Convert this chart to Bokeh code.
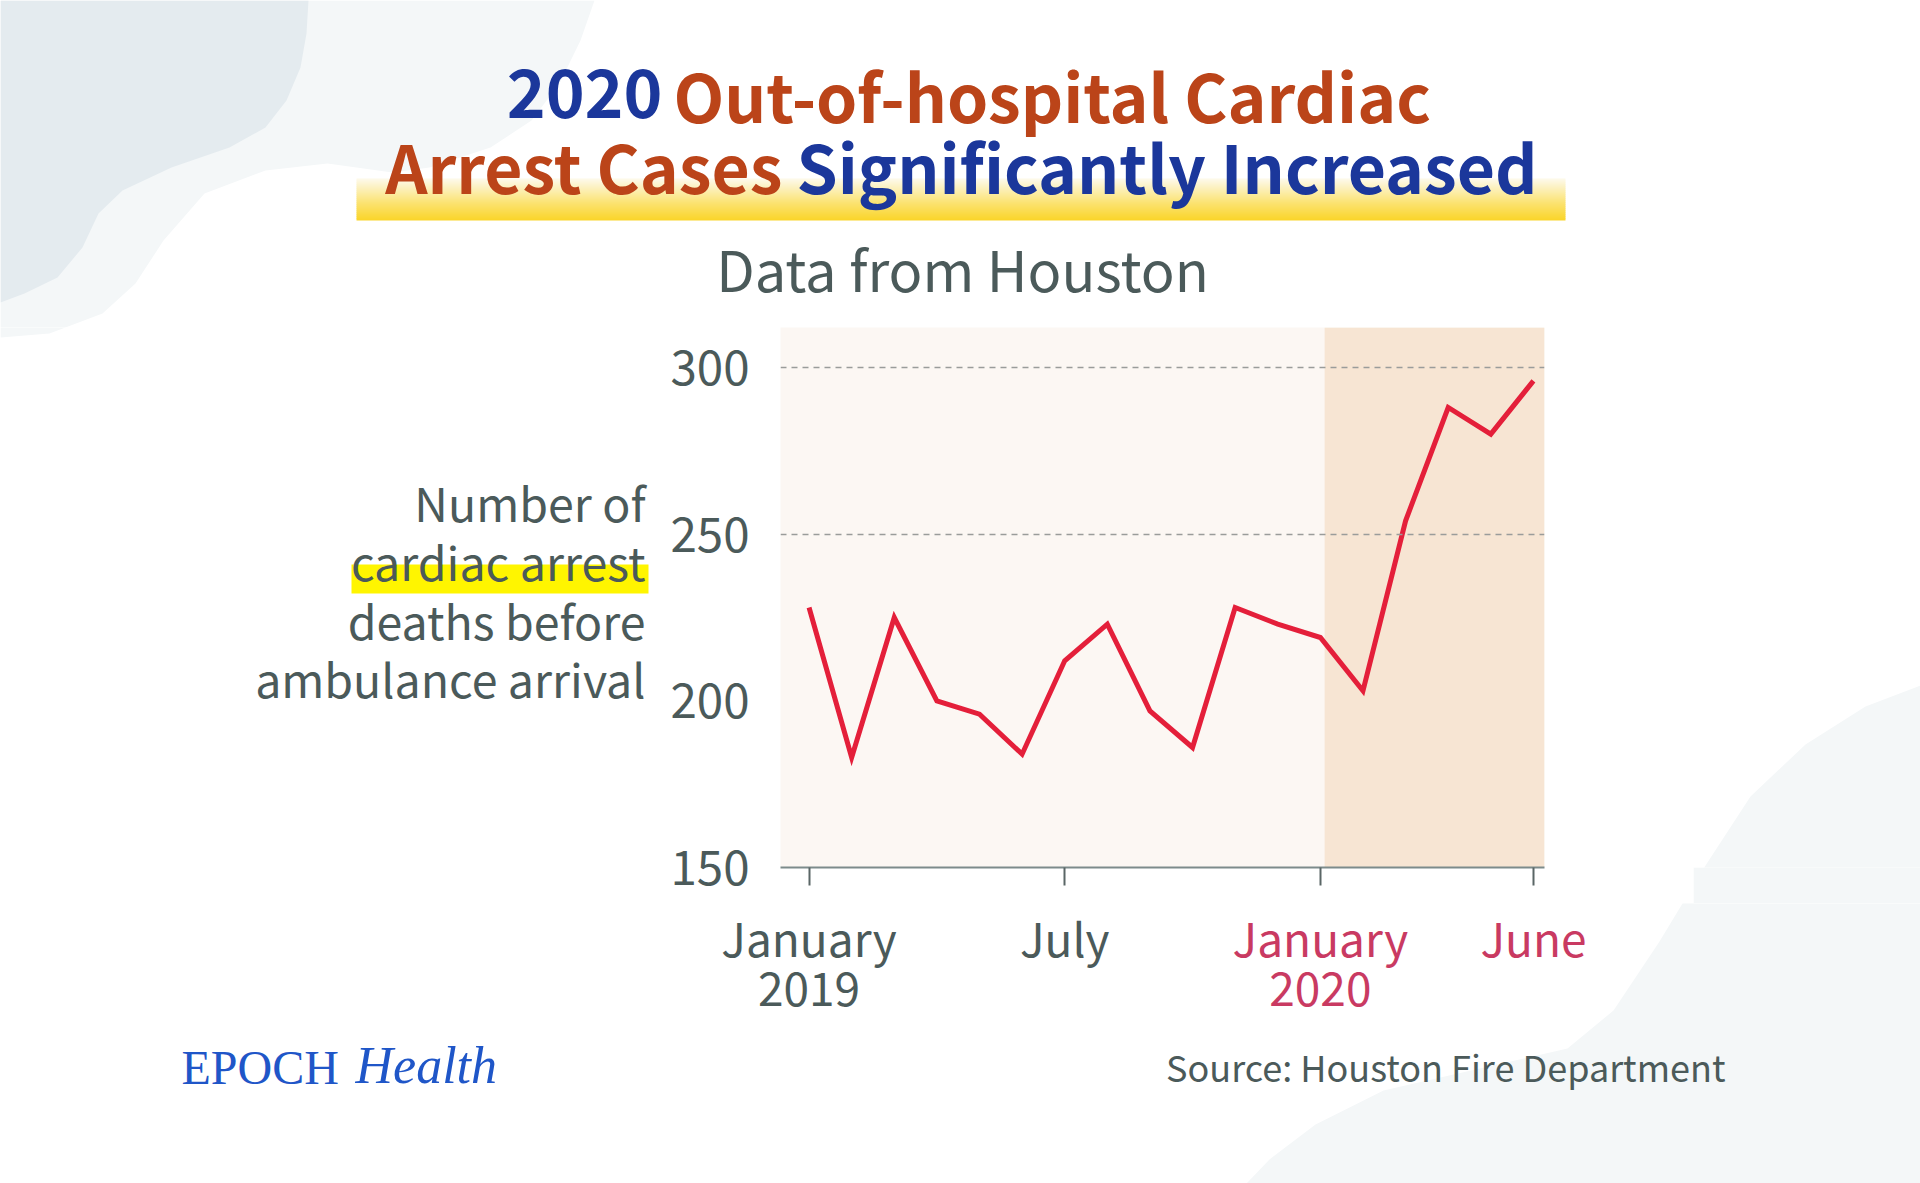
from bokeh.plotting import figure
from bokeh.layouts import column, row
from bokeh.models import Range1d, FixedTicker, BoxAnnotation
from bokeh.core.properties import value
from bokeh.embed import file_html
from bokeh.resources import INLINE

# ---------------- data ----------------
months = ["2019-01", "2019-02", "2019-03", "2019-04", "2019-05", "2019-06",
          "2019-07", "2019-08", "2019-09", "2019-10", "2019-11", "2019-12",
          "2020-01", "2020-02", "2020-03", "2020-04", "2020-05", "2020-06"]
month_index = list(range(len(months)))
deaths = [228, 183, 225, 200, 196, 184, 212, 223, 197, 186, 228, 223,
          219, 203, 254, 288, 280, 296]
x_tick_positions = [0, 6, 12, 17]
x_tick_months = ["January", "July", "January", "June"]
x_tick_years = ["2019", "", "2020", ""]
x_tick_is_2020 = [False, False, True, True]
y_ticks = [150, 200, 250, 300]
grid_values = [250, 300]
shade_start = 12.1  # January 2020

# ---------------- layout constants ----------------
W, H = 1920, 1183
FL, FR, FT, FB = 780, 1544, 327, 867      # chart frame on the page
X0, X1 = -0.67, 17.26
Y0, Y1 = 150, 312
ROW_BOTTOM = 903
TOP_H = FT
MID_H = ROW_BOTTOM - FT
BOT_H = H - ROW_BOTTOM
LEFT_W, CHART_W = 660, 960
RIGHT_SPLIT = 1693                          # where the corner shape meets the chart row's foot
KX = (FR - FL) / (X1 - X0)                  # px per month

SANS = "Noto Sans CJK SC"
SERIF = "Liberation Serif"
GRAY = "#4b5a5a"
RED_LBL = "#c93a62"
BLUE = "#1b379b"
ORANGE = "#bb4419"
LOGO = "#1f56c8"
BLOB_LIGHT = "#f4f7f8"
BLOB_DARK = "#e4ebef"
# svg text sits lower than the requested baseline by this fraction of the font size
BASE_FIX = {SANS: 0.45, SERIF: 0.36}

# background shapes (page pixel coordinates, y downward)
blob_dark_x = [0, 308, 306, 300, 286, 265, 229, 171, 122, 98, 82, 57, 24, 0]
blob_dark_y = [0, 0, 33, 67, 100, 127, 147, 167, 190, 213, 247, 277, 293, 302]
blob_light_x = [0, 594, 580, 559, 531, 490, 429, 392, 327, 265, 204, 163, 135, 102, 49, 0]
blob_light_y = [0, 0, 40, 83, 120, 147, 167, 172, 163, 170, 193, 240, 283, 313, 333, 337]
blob_br_x = [1920, 1920, 1865, 1805, 1750, 1705, 1659, 1613, 1567, 1475, 1383, 1315, 1269, 1246]
blob_br_y = [1183, 685, 706, 744, 796, 865, 941, 1010, 1048, 1069, 1090, 1124, 1159, 1183]


def canvas(ox, oy, w, h, x_range=None, bottom_border=0, border_color="white"):
    """A blank figure addressed in page pixels (frame = figure minus bottom border)."""
    f = figure(width=w, height=h, title=None, output_backend="svg", toolbar_location=None,
               x_range=x_range if x_range is not None else Range1d(ox, ox + w),
               y_range=Range1d(oy + h - bottom_border, oy),
               x_axis_type=None, y_axis_type=None,
               min_border=0, min_border_left=0, min_border_right=0,
               min_border_top=0, min_border_bottom=bottom_border,
               background_fill_color="white", border_fill_color=border_color,
               outline_line_color=None)
    f.grid.visible = False
    return f


def blobs(f, xr="default"):
    f.patch(blob_light_x, blob_light_y, fill_color=BLOB_LIGHT, line_color=None, x_range_name=xr)
    f.patch(blob_dark_x, blob_dark_y, fill_color=BLOB_DARK, line_color=None, x_range_name=xr)
    f.patch(blob_br_x, blob_br_y, fill_color=BLOB_LIGHT, line_color=None, x_range_name=xr)


def txt(f, x, y, s, size, color, font=SANS, style="normal", align="left", xr="default"):
    f.text(x=[x], y=[y - BASE_FIX[font] * size], text=[s], text_font=value(font),
           text_font_size=f"{size}px", text_font_style=style, text_color=color,
           text_align=align, text_baseline="alphabetic", x_range_name=xr)


def lerp(c1, c2, t):
    a = [int(c1[i:i + 2], 16) for i in (1, 3, 5)]
    b = [int(c2[i:i + 2], 16) for i in (1, 3, 5)]
    return "#%02x%02x%02x" % tuple(round(a[k] + (b[k] - a[k]) * t) for k in range(3))


# ================= top band: title & subtitle =================
top = canvas(0, 0, W, TOP_H)
blobs(top)
bar_top, bar_bot = 178, 220
n_bands = 21
for i in range(n_bands):
    t = i / (n_bands - 1)
    col = lerp("#fdf9e8", "#fbe26f", t / 0.6) if t < 0.6 else lerp("#fbe26f", "#fad52c", (t - 0.6) / 0.4)
    y0 = bar_top + (bar_bot - bar_top) * i / n_bands
    y1 = min(bar_top + (bar_bot - bar_top) * (i + 1) / n_bands + 0.6, bar_bot)
    top.quad(left=[356], right=[1565], top=[y0], bottom=[y1], fill_color=col, line_color=None)

TS = 66
txt(top, 662, 123, "2020", TS, BLUE, style="bold", align="right")
txt(top, 673, 123, "Out-of-hospital Cardiac", TS, ORANGE, style="bold")
txt(top, 782, 194, "Arrest Cases", TS, ORANGE, style="bold", align="right")
txt(top, 796, 194, "Significantly Increased", TS, BLUE, style="bold")
txt(top, 962, 292, "Data from Houston", 56, GRAY, align="center")

# ================= left panel: y description =================
left = canvas(0, FT, LEFT_W, MID_H, bottom_border=ROW_BOTTOM - FB)
blobs(left)
left.quad(left=[351], right=[648], top=[564], bottom=[593], fill_color="#fff500", line_color=None)
ylab_lines = ["Number of", "cardiac arrest", "deaths before", "ambulance arrival"]
ylab_base = [522, 581, 640, 698]
for s, yb in zip(ylab_lines, ylab_base):
    txt(left, 645, yb, s, 46.5, GRAY, align="right")

# ================= chart =================
p = figure(width=CHART_W, height=MID_H, title=None,
           x_range=Range1d(X0, X1), y_range=Range1d(Y0, Y1),
           output_backend="svg", toolbar_location=None,
           min_border_left=FL - LEFT_W, min_border_right=LEFT_W + CHART_W - FR,
           min_border_top=0, min_border_bottom=ROW_BOTTOM - FB,
           background_fill_color="#fcf7f3", border_fill_color="white",
           outline_line_color=None)

p.add_layout(BoxAnnotation(left=shade_start, fill_color="#f7e5d3", fill_alpha=1,
                           line_color=None, level="underlay"))

p.xgrid.visible = False
p.ygrid.ticker = FixedTicker(ticks=grid_values)
p.ygrid.grid_line_color = "#9a9c9a"
p.ygrid.grid_line_dash = "6 5"
p.ygrid.grid_line_width = 1.5
p.ygrid.level = "glyph"

p.yaxis.ticker = FixedTicker(ticks=y_ticks)
p.yaxis.axis_line_color = None
p.yaxis.major_tick_line_color = None
p.yaxis.minor_tick_line_color = None
p.yaxis.major_label_text_font = SANS
p.yaxis.major_label_text_font_size = "47.5px"
p.yaxis.major_label_text_color = GRAY
p.yaxis.major_label_standoff = 25

p.xaxis.ticker = FixedTicker(ticks=x_tick_positions)
p.xaxis.axis_line_color = "#7d8b8b"
p.xaxis.axis_line_width = 2
p.xaxis.major_tick_line_color = "#5a6666"
p.xaxis.major_tick_line_width = 2
p.xaxis.major_tick_out = 18
p.xaxis.major_tick_in = 0
p.xaxis.minor_tick_line_color = None
p.xaxis.major_label_standoff = 0
p.xaxis.major_label_text_font_size = "1px"
p.xaxis.major_label_text_color = None   # month labels are drawn below, coloured per year

p.line(month_index, deaths, line_color="#e41f3a", line_width=5, line_join="miter")

# ================= right panels (split where the corner shape meets the row foot) =================
right_a = canvas(LEFT_W + CHART_W, FT, RIGHT_SPLIT - LEFT_W - CHART_W, MID_H,
                 bottom_border=ROW_BOTTOM - FB)
blobs(right_a)
right_b = canvas(RIGHT_SPLIT, FT, W - RIGHT_SPLIT, MID_H,
                 bottom_border=ROW_BOTTOM - FB, border_color=BLOB_LIGHT)
blobs(right_b)

# ================= bottom band: month labels & footer =================
bottom = canvas(0, ROW_BOTTOM, W, BOT_H,
                x_range=Range1d(X0 - FL / KX, X0 + (W - FL) / KX))
bottom.extra_x_ranges = {"px": Range1d(0, W)}
blobs(bottom, xr="px")
for pos, m, yr, is20 in zip(x_tick_positions, x_tick_months, x_tick_years, x_tick_is_2020):
    col = RED_LBL if is20 else GRAY
    txt(bottom, pos, 957, m, 46, col, align="center")
    if yr:
        txt(bottom, pos, 1009, yr, 46, col, align="center")

txt(bottom, 181, 1084, "EPOCH", 48, LOGO, font=SERIF, xr="px")
txt(bottom, 355, 1084, "Health", 52, LOGO, font=SERIF, style="italic", xr="px")
txt(bottom, 1725, 1082, "Source: Houston Fire Department", 36, GRAY, align="right", xr="px")

page = column(top, row(left, p, right_a, right_b, spacing=0), bottom, spacing=0)
open("out.html", "w").write(file_html(page, INLINE))
